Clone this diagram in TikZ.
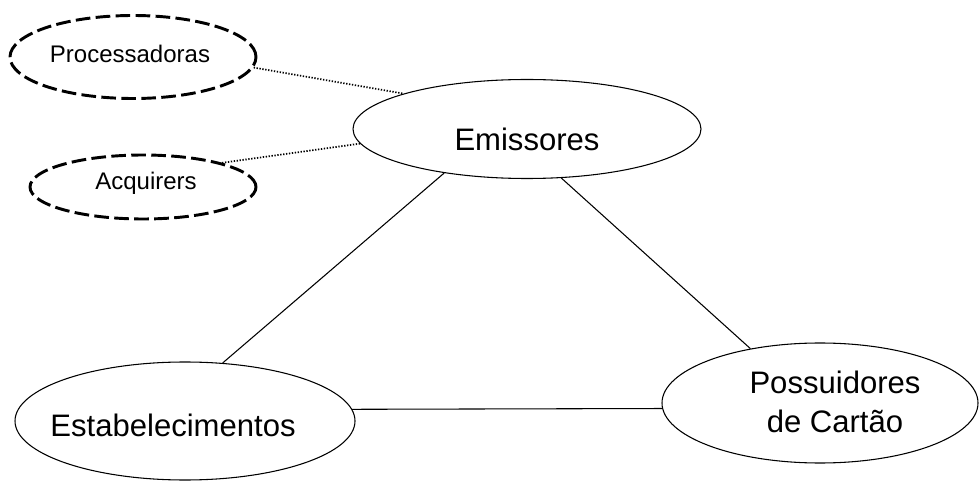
\documentclass[tikz,border=0pt]{standalone}
\usepackage{fontspec}
\setmainfont{Liberation Sans}
\usetikzlibrary{shapes.geometric}
\begin{document}
\begin{tikzpicture}[x=0.75pt,y=-0.75pt,
  mainell/.style={draw=black,line width=0.8pt,ellipse,inner sep=0pt},
  dashell/.style={draw=black,line width=2.2pt,ellipse,inner sep=0pt,dash pattern=on 11pt off 4pt},
  bigtxt/.style={font=\fontsize{23.3}{29}\selectfont,align=center,inner sep=0pt},
  smalltxt/.style={font=\fontsize{18}{22}\selectfont,inner sep=0pt},
  solidlink/.style={draw=black,line width=0.8pt},
  dotlink/.style={draw=black,line width=1.3pt,dash pattern=on 1pt off 1.2pt}]
\useasboundingbox (0,0) rectangle (979,481);
% ellipses
\node[dashell,minimum width=246*0.75pt,minimum height=83*0.75pt] (proc) at (133,57) {};
\node[dashell,minimum width=226*0.75pt,minimum height=64*0.75pt] (acq) at (143,187) {};
\node[mainell,minimum width=348*0.75pt,minimum height=99*0.75pt] (emi) at (527,129) {};
\node[mainell,minimum width=340*0.75pt,minimum height=118*0.75pt] (est) at (185,421) {};
\node[mainell,minimum width=316*0.75pt,minimum height=120*0.75pt] (pos) at (820,403) {};
% texts
\node[smalltxt] (proct) at (130,54) {Processadoras};
\node[smalltxt] (acqt) at (146,183) {Acquirers};
\node[bigtxt] (emit) at (527,139) {Emissores};
\node[bigtxt] (estt) at (173,425) {Estabelecimentos};
\node[bigtxt] (post) at (835,402) {Possuidores\\de Cart\~ao};
% connectors
\draw[solidlink] (emi.208) -- (est.57);
\draw[solidlink] (emi.-55) -- (pos.142);
\draw[solidlink] (est.4) -- (pos.182);
\draw[dotlink] (proc.-5) -- (emi.164);
\draw[dotlink] (acq.17) -- (emi.185);
\end{tikzpicture}
\end{document}
